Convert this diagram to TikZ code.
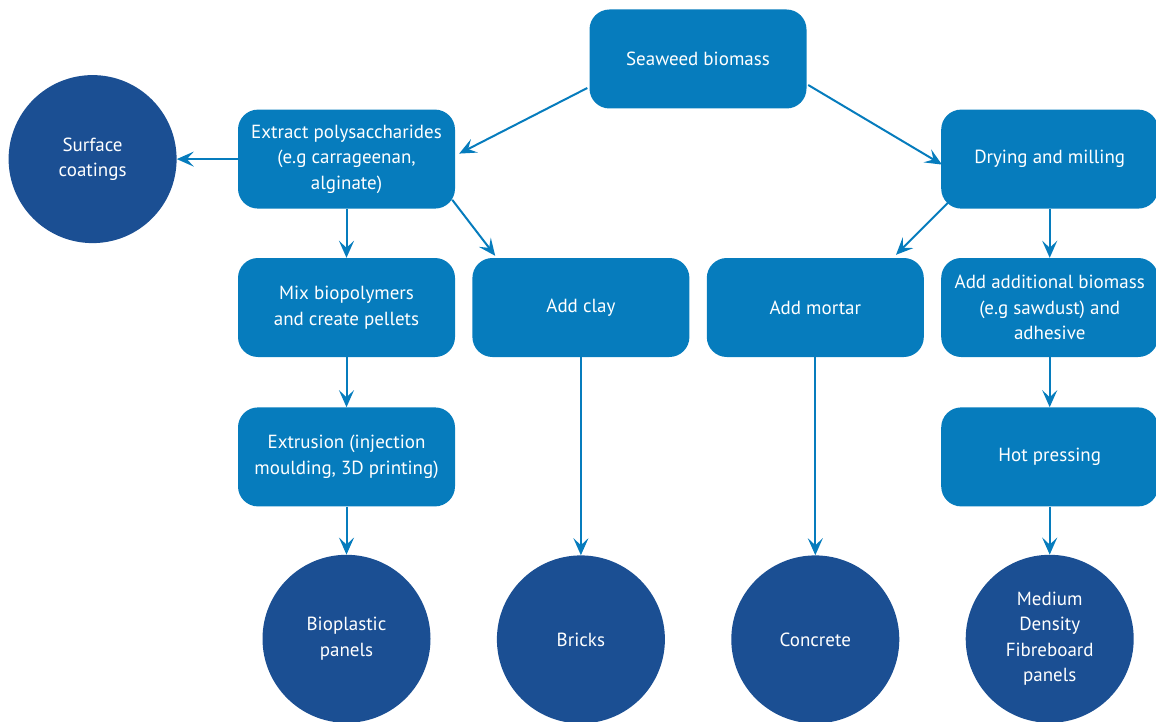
\documentclass[tikz,border=0pt]{standalone}
\usepackage{fontspec}
\setmainfont{PT Sans}
\usetikzlibrary{positioning,arrows.meta}
\definecolor{boxblue}{HTML}{067CBD}
\definecolor{roundblue}{HTML}{1B4F93}

\begin{document}
\begin{tikzpicture}[
  x=1pt, y=1pt,
  node distance=49pt and 17pt,
  box/.style={fill=boxblue, rounded corners=20pt, minimum width=217pt, minimum height=99pt, align=center, text=white, font=\fontsize{19}{25.5}\selectfont},
  product/.style={circle, fill=roundblue, minimum size=168pt, inner sep=0pt, align=center, text=white, font=\fontsize{19}{25.5}\selectfont},
  arr/.style={-{Stealth[length=17pt, width=15pt, inset=7pt]}, line width=2pt, draw=boxblue}
]
\useasboundingbox (0,0) rectangle (1156,-722);

\node[box] (seaweed) at (698,-59) {Seaweed biomass};
\node[box] (mix) at (346.5,-307.5) {Mix biopolymers\\and create pellets};
\node[box, right=of mix] (clay) {Add clay};
\node[box, right=of clay] (mortar) {Add mortar};
\node[box, right=of mortar] (additional) {Add additional biomass\\(e.g sawdust) and\\adhesive};
\node[box, above=of mix] (extract) {Extract polysaccharides\\(e.g carrageenan,\\alginate)};
\node[box, above=of additional] (drying) {Drying and milling};
\node[product, left=61pt of extract] (coatings) {Surface\\coatings};
\node[box, below=50pt of mix] (extrusion) {Extrusion (injection\\moulding, 3D printing)};
\node[box, below=50pt of additional] (pressing) {Hot pressing};
\node[product, below=48pt of extrusion] (bioplastic) {Bioplastic\\panels};
\node[product, below=198pt of clay] (bricks) {Bricks};
\node[product, below=198pt of mortar] (concrete) {Concrete};
\node[product, below=48pt of pressing] (mdf) {Medium\\Density\\Fibreboard\\panels};

\draw[arr] ([xshift=-2pt, yshift=-29pt]seaweed.west) -- ([xshift=4pt, yshift=5.5pt]extract.east);
\draw[arr] ([xshift=1.5pt, yshift=-26pt]seaweed.east) -- ([xshift=1pt, yshift=-5.5pt]drying.west);
\draw[arr] (extract) -- (coatings);
\draw[arr] (extract) -- (mix);
\draw[arr] ([xshift=-3pt, yshift=9pt]extract.south east) -- ([xshift=23pt, yshift=2pt]clay.north west);
\draw[arr] ([xshift=8pt, yshift=7pt]drying.south west) -- ([xshift=-28pt, yshift=3pt]mortar.north east);
\draw[arr] (drying) -- (additional);
\draw[arr] (mix) -- (extrusion);
\draw[arr] (extrusion) -- (bioplastic);
\draw[arr] (clay) -- (bricks);
\draw[arr] (mortar) -- (concrete);
\draw[arr] (additional) -- (pressing);
\draw[arr] (pressing) -- (mdf);
\end{tikzpicture}
\end{document}
